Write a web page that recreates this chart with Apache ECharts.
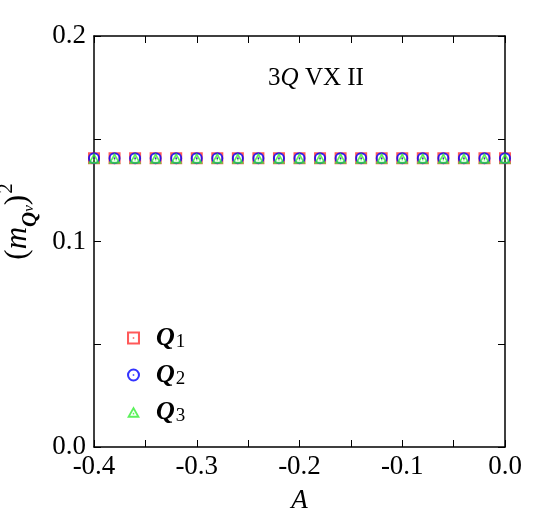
<!DOCTYPE html>
<html><head><meta charset="utf-8">
<script src="https://cdn.jsdelivr.net/npm/echarts@6/dist/echarts.min.js"></script>
<style>html,body{margin:0;padding:0;background:#fff}#c{width:550px;height:524px}</style>
</head><body><div id="c"></div>
<script>
const aValues = [-0.40,-0.38,-0.36,-0.34,-0.32,-0.30,-0.28,-0.26,-0.24,-0.22,-0.20,-0.18,-0.16,-0.14,-0.12,-0.10,-0.08,-0.06,-0.04,-0.02,0.00];
const q1 = [0.1405,0.1405,0.1405,0.1405,0.1405,0.1405,0.1405,0.1405,0.1405,0.1405,0.1405,0.1405,0.1405,0.1405,0.1405,0.1405,0.1405,0.1405,0.1405,0.1405,0.1405];
const q2 = [0.1405,0.1405,0.1405,0.1405,0.1405,0.1405,0.1405,0.1405,0.1405,0.1405,0.1405,0.1405,0.1405,0.1405,0.1405,0.1405,0.1405,0.1405,0.1405,0.1405,0.1405];
const q3 = [0.1405,0.1405,0.1405,0.1405,0.1405,0.1405,0.1405,0.1405,0.1405,0.1405,0.1405,0.1405,0.1405,0.1405,0.1405,0.1405,0.1405,0.1405,0.1405,0.1405,0.1405];
const seriesNames = ['Q1','Q2','Q3'];
const xTicks = [-0.4,-0.3,-0.2,-0.1,0.0];
const yTicks = [0.0,0.1,0.2];

const F = '"Times New Roman", Tinos, "Liberation Serif", "Nimbus Roman", serif';
const sqPath = 'path://M0,0H12V12H0Z M1.9,1.9V10.1H10.1V1.9Z M5.3,5.3H6.7V6.7H5.3Z';
const ciPath = 'path://M6,0A6,6 0 1,1 6,12A6,6 0 1,1 6,0Z M6,1.9A4.1,4.1 0 1,0 6,10.1A4.1,4.1 0 1,0 6,1.9Z M5.3,5.3H6.7V6.7H5.3Z';
const trPath = 'path://M6,0L12,10.4H0Z M6,3.3L2.95,8.6H9.05Z M5.3,6H6.7V7.4H5.3Z';

const axBase = {
  type:'value', axisLine:{show:true,onZero:false,lineStyle:{color:'#000',width:1.5}},
  axisTick:{show:true,inside:true,length:7,lineStyle:{color:'#000',width:1}},
  minorTick:{show:true,splitNumber:2,length:7,lineStyle:{color:'#000',width:1}},
  splitLine:{show:false}
};
const labelFmt = v => (Math.abs(v)<1e-9 ? '0.0' : v.toFixed(1));

const chart = echarts.init(document.getElementById('c'));
chart.setOption({
  animation:false,
  backgroundColor:'#fff',
  grid:{left:94,right:45,top:36,bottom:77,containLabel:false,outerBoundsMode:'none'},
  title:{text:'3{i|Q} VX II',left:311,top:61,textAlign:'center',
    textStyle:{fontFamily:F,fontSize:25,fontWeight:'normal',color:'#000',
      rich:{i:{fontFamily:F,fontSize:25,fontStyle:'italic',color:'#000'}}}},
  legend:{orient:'vertical',left:122,top:320,itemWidth:13,itemHeight:13,itemGap:10,
    data:seriesNames,
    formatter: n => '{q|Q}{s|'+n.slice(1)+'}',
    textStyle:{fontFamily:F,color:'#000',
      rich:{q:{fontFamily:F,fontSize:26,fontStyle:'italic',fontWeight:'bold',padding:[0,0,0,11],color:'#000'},
            s:{fontFamily:F,fontSize:19,padding:[9,0,0,1],color:'#000'}}}},
  xAxis:[
    Object.assign({},axBase,{position:'bottom',min:xTicks[0],max:xTicks[xTicks.length-1],interval:0.1,
      name:'A',nameLocation:'middle',nameGap:40,
      nameTextStyle:{fontFamily:F,fontSize:27,fontStyle:'italic',color:'#000'},
      axisLabel:{show:true,margin:6,fontFamily:F,fontSize:27,color:'#000',formatter:labelFmt}}),
    Object.assign({},axBase,{position:'top',min:-0.4,max:0.0,interval:0.1,axisLabel:{show:false}})
  ],
  yAxis:[
    Object.assign({},axBase,{position:'left',min:yTicks[0],max:yTicks[yTicks.length-1],interval:0.1,
      name:'{pl|(}{m|m}{q|Q}{n|ν}{p|)}{e|2}',nameLocation:'middle',nameGap:41,nameRotate:90,
      nameTextStyle:{fontFamily:F,color:'#000',
        rich:{pl:{fontFamily:F,fontSize:31,color:'#000',padding:[0,0,0,40]},
              p:{fontFamily:F,fontSize:31,color:'#000'},
              m:{fontFamily:F,fontSize:31,fontStyle:'italic',color:'#000'},
              q:{fontFamily:F,fontSize:21,fontStyle:'italic',fontWeight:'bold',padding:[26,0,0,0],color:'#000'},
              n:{fontFamily:F,fontSize:15,fontStyle:'italic',padding:[22,0,0,0],color:'#000'},
              e:{fontFamily:F,fontSize:21,padding:[0,0,22,1],color:'#000'}}},
      axisLabel:{show:true,margin:8,fontFamily:F,fontSize:27,color:'#000',formatter:labelFmt}}),
    Object.assign({},axBase,{position:'right',min:0,max:0.2,interval:0.1,axisLabel:{show:false}})
  ],
  series:[
    {name:seriesNames[0],type:'scatter',symbol:sqPath,symbolSize:12,itemStyle:{color:'#ff3030'},
      xAxisIndex:0,yAxisIndex:0,data:aValues.map((a,i)=>[a,q1[i]]),z:2},
    {name:seriesNames[1],type:'scatter',symbol:ciPath,symbolSize:12,itemStyle:{color:'#0000ff'},
      xAxisIndex:0,yAxisIndex:0,data:aValues.map((a,i)=>[a,q2[i]]),z:3},
    {name:seriesNames[2],type:'scatter',symbol:trPath,symbolSize:[12,11],itemStyle:{color:'#33ee33'},
      xAxisIndex:0,yAxisIndex:0,data:aValues.map((a,i)=>[a,q3[i]]),z:4}
  ]
});
</script></body></html>
